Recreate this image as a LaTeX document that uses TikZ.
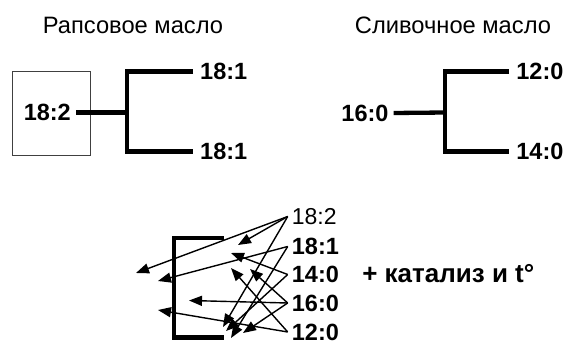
\documentclass[tikz,border=0pt]{standalone}
\usepackage{fontspec}
\setmainfont{Liberation Sans}
\usetikzlibrary{arrows.meta}
\begin{document}
\begin{tikzpicture}[x=1pt,y=-1pt,
  title/.style={font=\fontsize{23.7}{28}\selectfont, inner sep=0pt},
  acid/.style={font=\bfseries\fontsize{23.5}{28}\selectfont, inner sep=0pt},
  plainacid/.style={font=\fontsize{23}{28}\selectfont, inner sep=0pt},
  note/.style={font=\bfseries\fontsize{26}{30}\selectfont, inner sep=0pt},
  tree/.style={line width=4.3pt, line join=miter},
  mix/.style={line width=1.4pt, -{Triangle[length=13pt,width=10pt]}},
  frame/.style={draw=black!75, line width=0.8pt}
]
\useasboundingbox (0,0) rectangle (565,345);

% headings
\node[title] (rape)   at (133,25) {Рапсовое масло};
\node[title] (butter) at (453,25) {Сливочное масло};

% rapeseed oil: 18:2 splits into two 18:1
\node[frame, minimum width=78, minimum height=84] (box) at (51.7,113) {};
\node[acid] (l182) at (47.3,112.5) {18:2};
\node[acid, anchor=west] (l181a) at (200,71.5) {18:1};
\node[acid, anchor=west] (l181b) at (200,151.5) {18:1};
\coordinate (lfork) at (127,112.5);
\draw[tree] ([xshift=5pt]l182.east) -- (lfork);
\draw[tree] ([xshift=-7pt]l181a.west) -| (lfork) |- ([xshift=-7pt]l181b.west);

% butter: 16:0 splits into 12:0 and 14:0
\node[acid] (r160) at (365,113) {16:0};
\node[acid, anchor=west] (r120) at (516.2,71.5) {12:0};
\node[acid, anchor=west] (r140) at (516.2,151.5) {14:0};
\coordinate (rfork) at (445,112.5);
\draw[tree] ([xshift=5pt]r160.east) -- (rfork);
\draw[tree] ([xshift=-7pt]r120.west) -| (rfork) |- ([xshift=-7pt]r140.west);

% mixed glyceride bracket
\draw[tree] (224,238.3) -- (173.7,238.3) -- (173.7,337.5) -- (224,337.5);

% fatty acids in the mixture
\node[plainacid, anchor=west] (m182) at (291.7,216.5) {18:2};
\node[acid, anchor=west] (m181) at (291.7,246.5) {18:1};
\node[acid, anchor=west] (m140) at (291.7,274.5) {14:0};
\node[acid, anchor=west] (m160) at (291.7,303) {16:0};
\node[acid, anchor=west] (m120) at (291.7,332) {12:0};
\node[note, anchor=base west] (cat) at ([xshift=23pt]m140.base east) {+ катализ и t°};

% arrow starting points
\coordinate (s1) at ([xshift=-4pt]m182.west);
\coordinate (s2) at ([xshift=-4pt]m181.west);
\coordinate (s3) at ([xshift=-4pt]m140.west);
\coordinate (s4) at ([xshift=-4pt]m160.west);
\coordinate (s5) at ([xshift=-4pt]m120.west);

% arrow tips
\coordinate (t1)  at (136,273);
\coordinate (t2)  at (238,245);
\coordinate (t3)  at (158,281);
\coordinate (t4)  at (231,253);
\coordinate (t5)  at (231,268);
\coordinate (t6)  at (250,269);
\coordinate (t7)  at (189,300.5);
\coordinate (t8)  at (158,310);
\coordinate (t9)  at (223,327);
\coordinate (t10) at (231,338);
\coordinate (t11) at (243,333);
\coordinate (t12) at (226,331);

\draw[mix] (s1) -- (t1);
\draw[mix] (s1) -- (t2);
\draw[mix] (s1) -- (t9);
\draw[mix] (s2) -- (t3);
\draw[mix] (s2) -- (t10);
\draw[mix] (s3) -- (t4);
\draw[mix] (s3) -- (t12);
\draw[mix] (s4) -- (t7);
\draw[mix] (s4) -- (t6);
\draw[mix] (s4) -- (t11);
\draw[mix] (s5) -- (t5);
\draw[mix] (s5) -- (t8);
\end{tikzpicture}
\end{document}
